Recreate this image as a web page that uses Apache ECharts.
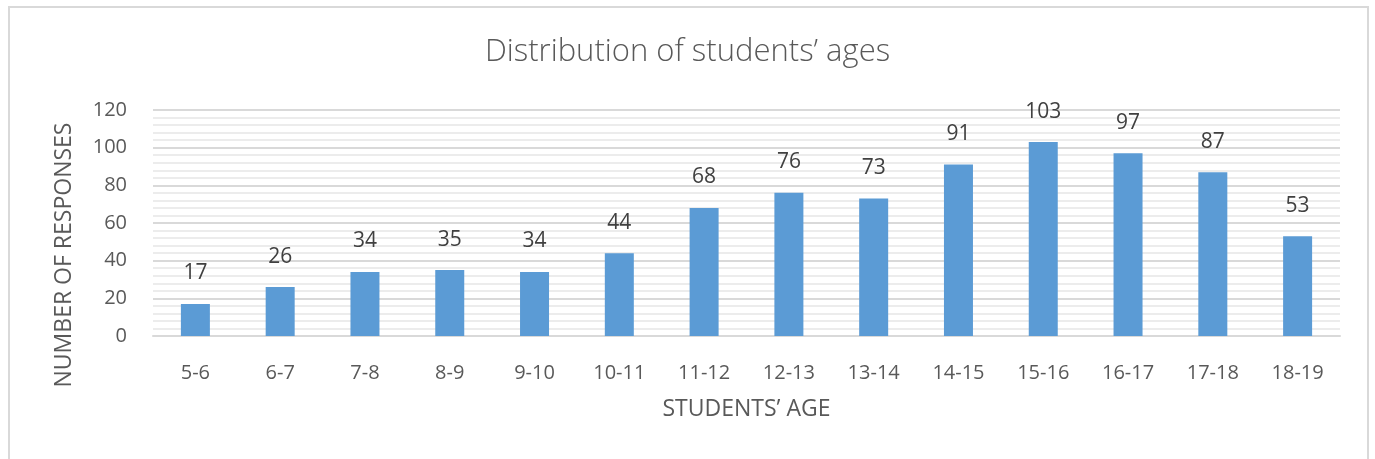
<!DOCTYPE html>
<html>
<head>
<meta charset="utf-8">
<script src="https://cdn.jsdelivr.net/npm/echarts@6/dist/echarts.min.js"></script>
<style>
html,body{margin:0;padding:0;background:#fff;}
#chart{width:1375px;height:459px;}
</style>
</head>
<body>
<div id="chart"></div>
<script>
const categories = ['5-6','6-7','7-8','8-9','9-10','10-11','11-12','12-13','13-14','14-15','15-16','16-17','17-18','18-19'];
const responses = [17,26,34,35,34,44,68,76,73,91,103,97,87,53];
const titleText = 'Distribution of students\u2019 ages';
const xName = 'STUDENTS\u2019 AGE';
const yName = 'NUMBER OF RESPONSES';

const FONT = '"Open Sans", sans-serif';
const chart = echarts.init(document.getElementById('chart'), null, {renderer:'canvas'});
chart.setOption({
  animation:false,
  backgroundColor:'#fff',
  title:{
    text:titleText, left:'center', top:32,
    textStyle:{fontFamily:FONT, fontSize:31, fontWeight:300, color:'#595959'}
  },
  grid:{left:153, right:35, top:110, bottom:123},
  xAxis:{
    type:'category', data:categories,
    name:xName, nameLocation:'middle', nameGap:62,
    nameTextStyle:{fontFamily:FONT, fontSize:23, color:'#595959'},
    axisLine:{lineStyle:{color:'#d9d9d9', width:2}},
    axisTick:{show:false},
    axisLabel:{fontFamily:FONT, fontSize:20, color:'#595959', margin:27}
  },
  yAxis:{
    type:'value', min:0, max:120, interval:20,
    axisLine:{show:false}, axisTick:{show:false},
    axisLabel:{fontFamily:FONT, fontSize:20, color:'#595959', margin:26},
    splitLine:{lineStyle:{color:'#d9d9d9', width:2}},
    minorTick:{show:false, splitNumber:5},
    minorSplitLine:{show:true, lineStyle:{color:'#ececec', width:2}}
  },
  series:[{
    type:'bar', data:responses, barWidth:29,
    itemStyle:{color:'#5b9bd5'},
    label:{show:true, position:'top', distance:20, fontFamily:FONT, fontSize:21, color:'#404040'}
  }],
  graphic:[
    {type:'rect', shape:{x:9, y:7, width:1359, height:470}, style:{fill:'none', stroke:'#d9d9d9', lineWidth:2}, silent:true},
    {type:'text', x:64, y:255, rotation:Math.PI/2,
     style:{text:yName, fontFamily:FONT, fontSize:23, fill:'#595959', textAlign:'center', textVerticalAlign:'middle'}}
  ]
});
</script>
</body>
</html>
